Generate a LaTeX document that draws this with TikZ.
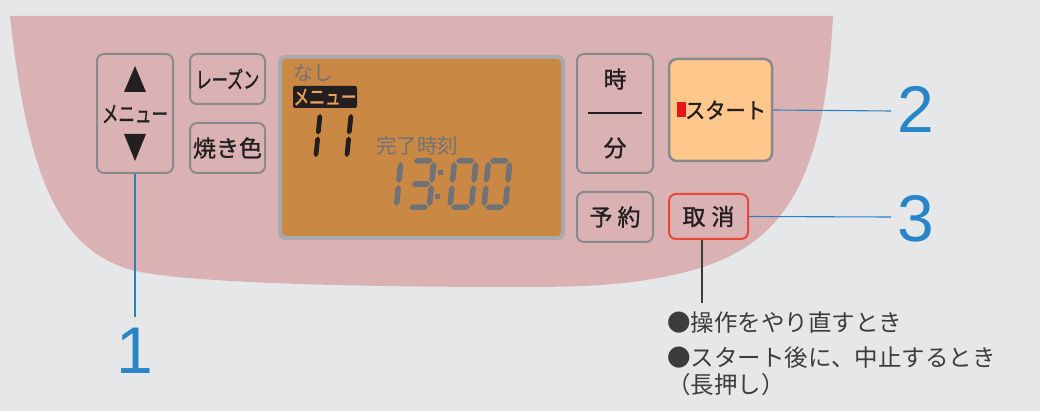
\documentclass[tikz,border=0pt]{standalone}
\usepackage{fontspec}
\setmainfont{Liberation Sans}
\newfontfamily\jp{Noto Sans CJK JP}
\newfontfamily\jpm[FakeBold=1.2]{Noto Sans CJK JP}
\definecolor{bg}{RGB}{230,231,233}
\definecolor{panel}{RGB}{219,178,180}
\definecolor{btnedge}{RGB}{138,138,140}
\definecolor{lcdframe}{RGB}{170,170,174}
\definecolor{lcd}{RGB}{201,137,69}
\definecolor{lcdgray}{RGB}{112,114,118}
\definecolor{ink}{RGB}{35,31,32}
\definecolor{startfill}{RGB}{253,199,139}
\definecolor{cancelred}{RGB}{232,72,58}
\definecolor{blueline}{RGB}{43,128,194}
\definecolor{bluenum}{RGB}{40,134,200}
\definecolor{textgray}{RGB}{60,60,60}
\definecolor{lcdlabel}{RGB}{236,160,92}
\definecolor{markred}{RGB}{232,20,27}
% seven segment helpers
\newcommand\segs{2.8}
\newcommand\hsg[3]{\fill (#1,#3) -- ({#1+\segs},{#3-\segs}) -- ({#2-\segs},{#3-\segs}) -- (#2,#3) -- ({#2-\segs},{#3+\segs}) -- ({#1+\segs},{#3+\segs}) -- cycle;}
\newcommand\vsg[3]{\fill (#1,#2) -- ({#1+\segs},{#2+\segs}) -- ({#1+\segs},{#3-\segs}) -- (#1,#3) -- ({#1-\segs},{#3-\segs}) -- ({#1-\segs},{#2+\segs}) -- cycle;}
\newcommand\SA{\hsg{4}{23}{2.8}}
\newcommand\SB{\vsg{24.2}{4}{24.8}}
\newcommand\SC{\vsg{24.2}{27.2}{48}}
\newcommand\SD{\hsg{4}{23}{49.2}}
\newcommand\SE{\vsg{2.8}{27.2}{48}}
\newcommand\SF{\vsg{2.8}{4}{24.8}}
\newcommand\SG{\hsg{4}{23}{26}}
\newcommand\segdigit[2]{\begin{scope}[shift={(#1)},xslant=0.1]#2\end{scope}}
\tikzset{
  btn/.style={draw=btnedge, line width=2pt, fill=panel, rounded corners=7pt, inner sep=0pt},
  jptext/.style={font=\jp, text=ink, inner sep=0pt},
  leader/.style={draw=blueline, line width=1.1pt},
  numlabel/.style={font=\fontsize{66}{66}\selectfont, text=bluenum, inner sep=0pt},
  note/.style={font=\jp\fontsize{23.5}{26}\selectfont, text=textgray, inner sep=0pt, anchor=west},
}
\begin{document}
\begin{tikzpicture}[x=1pt,y=-1pt]
\useasboundingbox (0,0) rectangle (1040,411);
\fill[bg] (0,0) rectangle (1040,411);
% panel
\fill[panel] (10,16) -- (833,16)
  .. controls (825,170) and (790,240) .. (700,268)
  .. controls (640,286) and (580,287) .. (520,287)
  .. controls (350,287) and (200,283) .. (140,272)
  .. controls (60,255) and (28,180) .. (10,16) -- cycle;
% menu button
\node[btn, minimum width=76pt, minimum height=119pt] (menu) at (135,113.5) {};
\fill[ink] (124,92) -- (146,92) -- (135,66) -- cycle;
\fill[ink] (124,134) -- (146,134) -- (135,161) -- cycle;
\node[jptext, font=\jpm\fontsize{23}{23}\selectfont] (menutxt) at (135,114) {\scalebox{0.72}[1]{メニュー}};
% raisin & crust
\node[btn, minimum width=75pt, minimum height=50pt, font=\jpm\fontsize{23}{23}\selectfont, text=ink] (raisin) at (227.5,79) {\scalebox{0.7}[1]{レーズン}};
\node[btn, minimum width=75pt, minimum height=50pt, font=\jpm\fontsize{23}{23}\selectfont, text=ink] (crust) at (227.5,148) {焼き色};
% LCD
\node[fill=lcdframe, rounded corners=7pt, minimum width=287pt, minimum height=185pt, inner sep=0pt] (lcdbox) at (421.5,147.5) {};
\fill[lcd, rounded corners=4pt] (282,59) rectangle (561,236);
\node[jptext, text=lcdgray, font=\jp\fontsize{20}{20}\selectfont] (nashi) at (313,73) {なし};
\node[fill=ink, rounded corners=2pt, minimum width=64pt, minimum height=22pt, inner sep=0pt, text=lcdlabel, font=\jpm\fontsize{21}{21}\selectfont] (menulbl) at (325,97) {\scalebox{0.75}[1]{メニュー}};
\node[jptext, text=lcdgray, font=\jp\fontsize{20.5}{20.5}\selectfont] (kanryo) at (417,146) {完了時刻};
% "11"
\begin{scope}[ink]
\renewcommand\segs{2.4}
\segdigit{296,113}{\vsg{24.2}{1}{21.5}\vsg{24.2}{23.5}{44}}
\segdigit{327,113}{\vsg{24.2}{1}{21.5}\vsg{24.2}{23.5}{44}}
\end{scope}
% "13:00"
\begin{scope}[lcdgray]
\segdigit{377,158}{\SB\SC}
\segdigit{410,158}{\SA\SB\SG\SC\SD}
\segdigit{452,158}{\SA\SB\SC\SD\SE\SF}
\segdigit{486,158}{\SA\SB\SC\SD\SE\SF}
\fill (437.5,170.5) rectangle (442.5,175.5);
\fill (434.5,194.5) rectangle (439.5,199.5);
\end{scope}
% hour/minute
\node[btn, minimum width=76pt, minimum height=119pt] (hm) at (615,113.5) {};
\node[jptext, font=\jpm\fontsize{23}{23}\selectfont] (hour) at (615,79) {時};
\draw[ink, line width=1.6pt] (588,113) -- (642,113);
\node[jptext, font=\jpm\fontsize{23}{23}\selectfont] (minute) at (615,148) {分};
% reserve
\node[btn, minimum width=76pt, minimum height=50pt, font=\jpm\fontsize{23}{23}\selectfont, text=ink] (reserve) at (615,217) {予\hspace{5pt}約};
% start
\node[btn, fill=startfill, line width=2.5pt, rounded corners=8pt, minimum width=103pt, minimum height=102pt] (start) at (720.5,110) {};
\fill[markred] (677,102) rectangle (686,117);
\node[jptext, font=\jpm\fontsize{22}{22}\selectfont] (starttxt) at (725.5,110) {\scalebox{0.92}[1]{スタート}};
% cancel
\node[btn, draw=cancelred, minimum width=79pt, minimum height=45pt, font=\jpm\fontsize{23}{23}\selectfont, text=ink] (cancel) at (708.5,216.5) {取\hspace{6pt}消};
% leaders
\coordinate (e1) at (135,317);
\coordinate (e2) at (891,111);
\coordinate (e3) at (891,217);
\draw[leader] (menu.south) -- (e1);
\draw[leader] (start.east) -- (e2);
\draw[leader] (cancel.east) -- (e3);
\node[numlabel] (n1) at (135,351) {1};
\node[numlabel] (n2) at (916,109) {2};
\node[numlabel] (n3) at (916,219) {3};
% note leader
\coordinate (e4) at (702,303);
\draw[textgray, line width=1.1pt] (cancel.south -| e4) -- (e4);
\node[note] (note1) at (667,323) {●操作をやり直すとき};
\node[note] (note2) at (667,358) {●スタート後に、中止するとき};
\node[note] (note3) at (667,385) {（長押し）};
\end{tikzpicture}
\end{document}
